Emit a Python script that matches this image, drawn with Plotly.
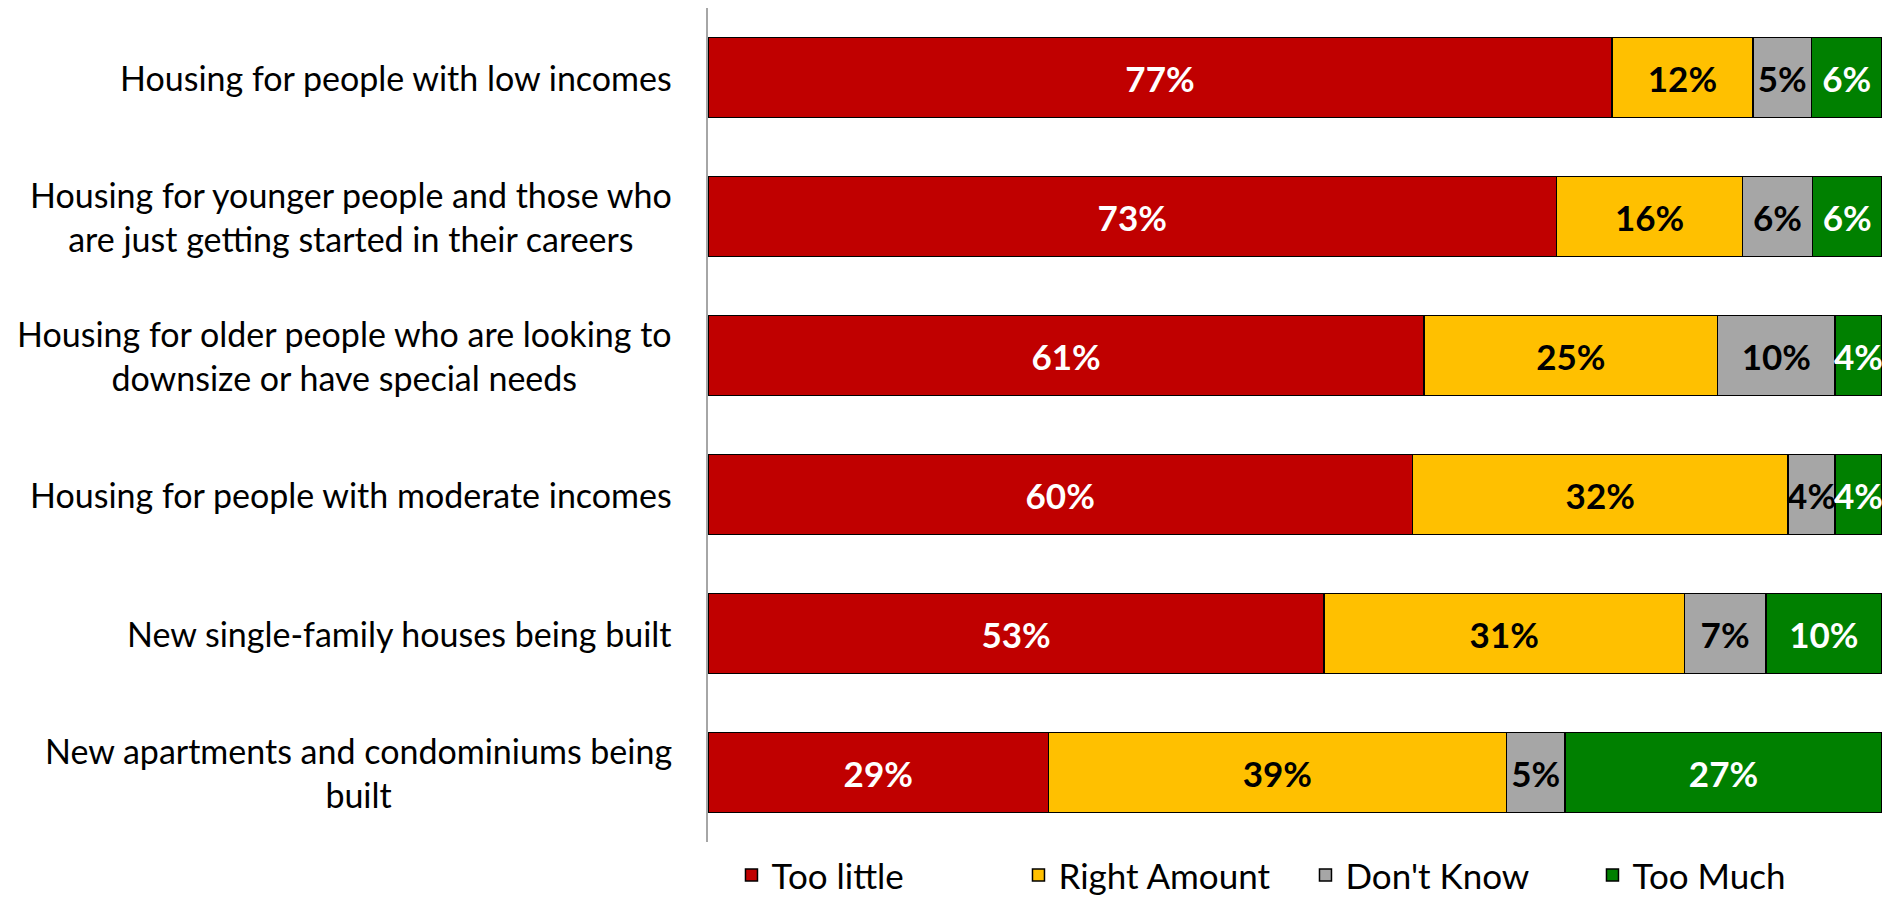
import plotly.graph_objects as go

# Survey items, top row first
categories = [
    "Housing for people with low incomes",
    "Housing for younger people and those who<br>are just getting started in their careers",
    "Housing for older people who are looking to<br>downsize or have special needs",
    "Housing for people with moderate incomes",
    "New single-family houses being built",
    "New apartments and condominiums being<br>built",
]

too_little = [77, 73, 61, 60, 53, 29]
right_amount = [12, 16, 25, 32, 31, 39]
dont_know = [5, 6, 10, 4, 7, 5]
too_much = [6, 6, 4, 4, 10, 27]

series = [
    ("Too little", too_little, "#C00000", "white"),
    ("Right Amount", right_amount, "#FFC000", "black"),
    ("Don't Know", dont_know, "#A6A6A6", "black"),
    ("Too Much", too_much, "#008000", "white"),
]

FONT = "Lato, Carlito, Calibri, sans-serif"
LABEL_FS = 34
BAR_FS = 35
LEGEND_FS = 35

fig = go.Figure()
for name, vals, color, tcolor in series:
    fig.add_trace(go.Bar(
        name=name,
        y=categories,
        x=vals,
        orientation="h",
        marker=dict(color=color, line=dict(color="#000000", width=1.5)),
        text=[f"{v}%" for v in vals],
        textposition="inside",
        insidetextanchor="middle",
        textangle=0,
        constraintext="none",
        textfont=dict(family=FONT, size=BAR_FS, color=tcolor, weight="bold"),
        cliponaxis=False,
    ))

# Category labels, centered line by line and right-aligned to the axis
for cat in categories:
    fig.add_annotation(
        x=0, xref="paper", xanchor="right", xshift=-34,
        y=cat, yref="y", yanchor="middle",
        text=cat, align="center", showarrow=False,
        font=dict(family=FONT, size=LABEL_FS, color="#000000"),
    )

fig.update_layout(
    width=1890, height=899,
    barmode="stack", barnorm="percent", bargap=0.426,
    plot_bgcolor="white", paper_bgcolor="white",
    margin=dict(l=708, r=8, t=8, b=57, autoexpand=False),
    font=dict(family=FONT, size=LABEL_FS, color="#000000"),
    uniformtext=dict(minsize=BAR_FS, mode="show"),
    showlegend=True,
    legend=dict(
        orientation="h", x=0.02, xanchor="left",
        y=-0.04, yanchor="middle",
        font=dict(family=FONT, size=LEGEND_FS, color="#000000"),
        entrywidth=242, entrywidthmode="pixels",
        traceorder="normal", itemclick=False,
    ),
    xaxis=dict(range=[0, 100], visible=False, fixedrange=True),
    yaxis=dict(
        categoryorder="array", categoryarray=categories[::-1],
        showticklabels=False, ticks="",
        showline=True, linecolor="#A6A6A6", linewidth=1.5,
        showgrid=False, zeroline=False,
    ),
)

fig.write_html("out.html")
